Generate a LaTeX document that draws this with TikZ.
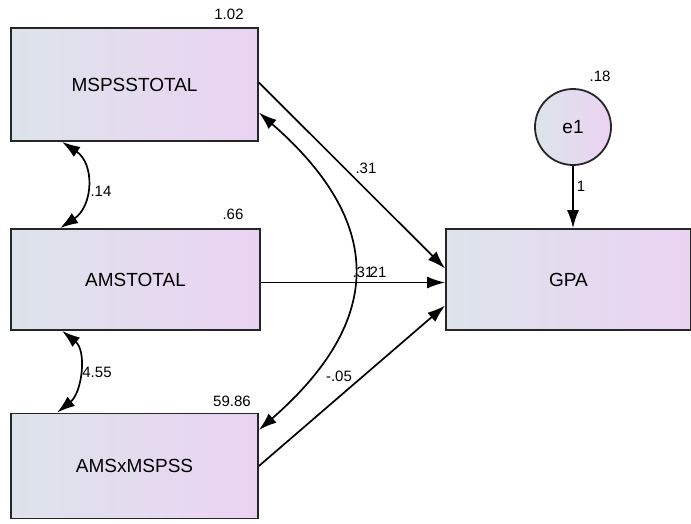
\documentclass[tikz,border=0pt]{standalone}
\usepackage{fontspec}
\setmainfont{Liberation Sans}
\usetikzlibrary{arrows.meta,calc}
\definecolor{boxleft}{RGB}{221,228,235}
\definecolor{boxright}{RGB}{234,211,242}
\begin{document}
\begin{tikzpicture}[x=1pt, y=1pt,
		obs/.style={rectangle, draw=black!85, line width=1.8pt, left color=boxleft, right color=boxright, inner sep=0pt, font=\fontsize{19}{22}\selectfont},
		err/.style={circle, draw=black!85, line width=1.8pt, left color=boxleft, right color=boxright, inner sep=0pt, minimum size=76pt, font=\fontsize{19}{22}\selectfont},
		est/.style={font=\fontsize{15}{18}\selectfont, inner sep=0pt},
		path/.style={line width=1.7pt, -{Latex[length=18pt, width=12pt]}},
		cov/.style={line width=1.7pt, {Latex[length=18pt, width=12pt]}-{Latex[length=18pt, width=12pt]}}]
	\useasboundingbox (0,0) rectangle (691,-523);
	% observed variables
	\node[obs, minimum width=247pt, minimum height=113pt] (ms) at (134.5,-84.5) {MSPSSTOTAL};
	\node[obs, minimum width=249pt, minimum height=101pt] (am) at (135.5,-279.5) {AMSTOTAL};
	\node[obs, minimum width=247pt, minimum height=105pt] (ax) at (134.5,-466) {AMSxMSPSS};
	\node[obs, minimum width=245pt, minimum height=101pt] (gpa) at (568.5,-279.5) {GPA};
	\node[err] (e1) at (573,-127) {e1};
	% variances
	\node[est] (vms) at (229,-14) {1.02};
	\node[est] (vam) at (233,-214) {.66};
	\node[est] (vax) at (232,-401) {59.86};
	\node[est] (ve1) at (600,-76) {.18};
	% regression paths
	\coordinate (gpa1) at ($(gpa.west)+(0,11)$);
	\coordinate (gpa3) at ($(gpa.west)+(0,-26)$);
	\draw[path] ($(ms.east)+(0,2)$) -- (gpa1);
	\draw[path] ($(am.east)+(0,-3)$) -- ($(gpa.west)+(0,-3)$);
	\draw[path] (ax.east) -- (gpa3);
	\draw[path] (e1) -- (e1 |- gpa.north);
	% covariances
	\draw[cov] ($(ms.south west)+(52,0)$) .. controls +(33,-22) and +(33,22) .. ($(am.north west)+(50,0)$);
	\draw[cov] ($(am.south west)+(52,0)$) .. controls +(25,-20) and +(25,20) .. ($(ax.north west)+(47,0)$);
	\draw[cov] ($(ms.east)+(0,-28)$) .. controls +(126,-110) and +(126,110) .. ($(ax.east)+(0,36)$);
	% estimates
	\node[est] (b1) at (366,-168) {.31};
	\node[est] (b2) at (376,-272) {.21};
	\node[est] (c3) at (363,-272) {.31};
	\node[est] (b3) at (339,-376) {-.05};
	\node[est] (c1) at (101,-191) {.14};
	\node[est] (c2) at (97,-372) {4.55};
	\node[est] (l1) at (581,-186) {1};
\end{tikzpicture}
\end{document}
